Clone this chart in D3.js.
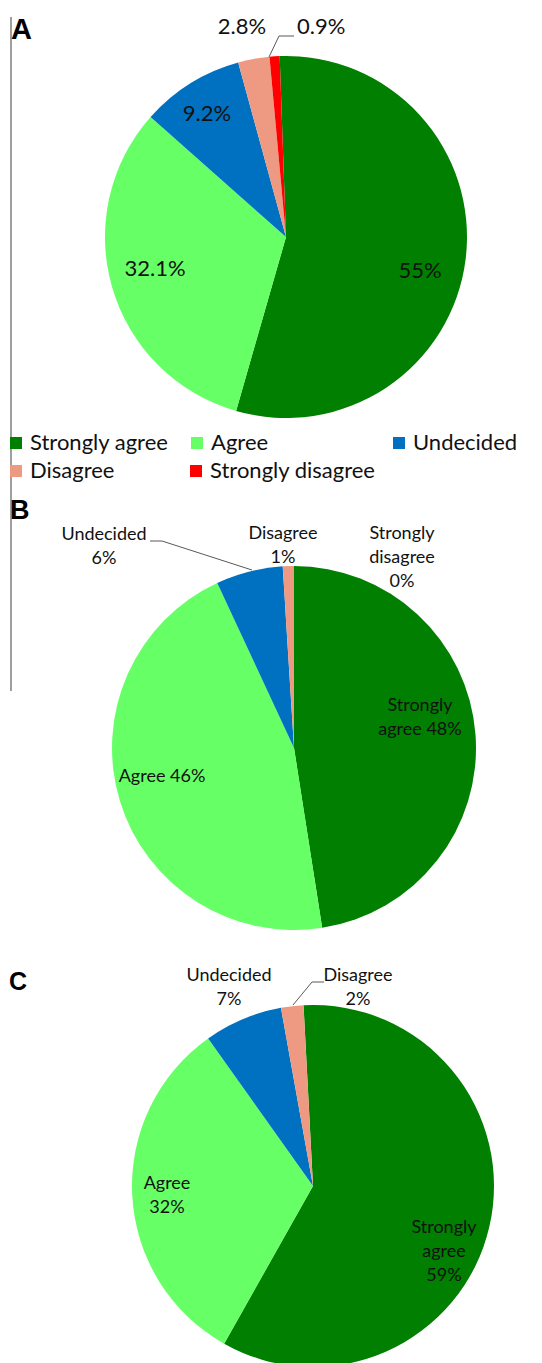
<!DOCTYPE html>
<html>
<head>
<meta charset="utf-8">
<script src="https://cdn.jsdelivr.net/npm/d3@7"></script>
<style>
  html, body { margin: 0; padding: 0; background: #fff; }
  svg { display: block; }
</style>
</head>
<body>
<svg id="chart" width="542" height="1363"></svg>
<script>
// ---------- data ----------
const categories = ["Strongly agree", "Agree", "Undecided", "Disagree", "Strongly disagree"];
const valuesA = [55, 32.1, 9.2, 2.8, 0.9];
const valuesB = [48, 46, 6, 1, 0];
const valuesC = [59, 32, 7, 2, 0];
const labelsA = [["55%"], ["32.1%"], ["9.2%"], ["2.8%"], ["0.9%"]];
const labelsB = [["Strongly", "agree 48%"], ["Agree 46%"], ["Undecided", "6%"], ["Disagree", "1%"], ["Strongly", "disagree", "0%"]];
const labelsC = [["Strongly", "agree", "59%"], ["Agree", "32%"], ["Undecided", "7%"], ["Disagree", "2%"], []];
const panelLetters = ["A", "B", "C"];

// ---------- styles / layout ----------
const colors = ["#007f00", "#66ff66", "#0070c0", "#ee9a82", "#ff0000"];
const color = d3.scaleOrdinal().domain(categories).range(colors);
const labelFont = "Lato, 'Open Sans', sans-serif";

// labelPos: [dx, dy of LAST line baseline relative to pie centre, anchor]
const panels = [
  { letter: "A", values: valuesA, labels: labelsA, cx: 286, cy: 237, r: 181, rot: -2,
    fontSize: 22, lineH: 24,
    labelPos: [[134, 41, "middle"], [-131, 39, "middle"], [-79, -116, "middle"], [-44, -203, "middle"], [11, -203, "start"]],
    leaders: [null, null, null, null, [[-17, -180], [-7, -201], [8, -201]]],
    letterPos: [11, 39], letterSize: 29 },
  { letter: "B", values: valuesB, labels: labelsB, cx: 294, cy: 748, r: 182, rot: 0,
    fontSize: 18, lineH: 24,
    labelPos: [[126, -13, "middle"], [-132, 34, "middle"], [-190, -184, "middle"], [-11, -185, "middle"], [108, -161, "middle"]],
    leaders: [null, null, [[-144, -207], [-132, -207], [-42, -178]], null, null],
    letterPos: [10, 519], letterSize: 27 },
  { letter: "C", values: valuesC, labels: labelsC, cx: 313, cy: 1186, r: 181, rot: -3,
    fontSize: 18, lineH: 24,
    labelPos: [[131, 95, "middle"], [-146, 27, "middle"], [-84, -181, "middle"], [45, -181, "middle"], [0, 0, "middle"]],
    leaders: [null, null, null, [[-20, -181], [-1, -204], [11, -204]], null],
    letterPos: [9, 990], letterSize: 25 }
];

const svg = d3.select("#chart");

// vertical rule at the left
svg.append("line")
  .attr("x1", 11).attr("x2", 11).attr("y1", 17).attr("y2", 691)
  .attr("stroke", "#7f7f7f").attr("stroke-width", 1.5);

panels.forEach(p => {
  const rot = p.rot * Math.PI / 180;
  const pie = d3.pie().sort(null).value(d => d.v)
    .startAngle(rot).endAngle(2 * Math.PI + rot);
  const data = categories.map((c, i) => ({ c, v: p.values[i], lab: p.labels[i], i }));
  const arcs = pie(data);
  const arc = d3.arc().innerRadius(0).outerRadius(p.r);

  const g = svg.append("g").attr("transform", `translate(${p.cx},${p.cy})`);
  g.selectAll("path.slice")
    .data(arcs.filter(a => a.data.v > 0))
    .join("path")
    .attr("class", "slice")
    .attr("d", arc)
    .attr("fill", d => color(d.data.c));

  // leader lines
  p.leaders.forEach((pts, i) => {
    if (!pts) return;
    g.append("path")
      .attr("d", d3.line()(pts))
      .attr("fill", "none")
      .attr("stroke", "#595959")
      .attr("stroke-width", 1);
  });

  // labels
  arcs.forEach((a, i) => {
    const lines = a.data.lab;
    if (!lines || !lines.length) return;
    const [lx, ly, anchor] = p.labelPos[i];
    const t = g.append("text")
      .attr("x", lx).attr("y", ly)
      .attr("text-anchor", anchor)
      .attr("font-family", labelFont)
      .attr("font-size", p.fontSize)
      .attr("fill", "#111");
    const n = lines.length;
    lines.forEach((ln, k) => {
      t.append("tspan")
        .attr("x", lx)
        .attr("y", ly - (n - 1 - k) * p.lineH)
        .text(ln);
    });
  });

  // panel letter
  svg.append("text")
    .attr("x", p.letterPos[0]).attr("y", p.letterPos[1])
    .attr("font-family", "'Liberation Sans', Arial, sans-serif")
    .attr("font-weight", "bold")
    .attr("font-size", p.letterSize)
    .attr("fill", "#000")
    .text(p.letter);
});

// legend (panel A)
const legendPos = [[10, 450], [191, 450], [393, 450], [10, 478], [190, 478]];
const lg = svg.append("g").attr("class", "legend");
categories.forEach((c, i) => {
  const [x, y] = legendPos[i];
  lg.append("rect")
    .attr("x", x).attr("y", y - 13)
    .attr("width", 12).attr("height", 12)
    .attr("fill", color(c));
  lg.append("text")
    .attr("x", x + 20).attr("y", y)
    .attr("font-family", labelFont)
    .attr("font-size", 22)
    .attr("fill", "#111")
    .text(c);
});
</script>
</body>
</html>
